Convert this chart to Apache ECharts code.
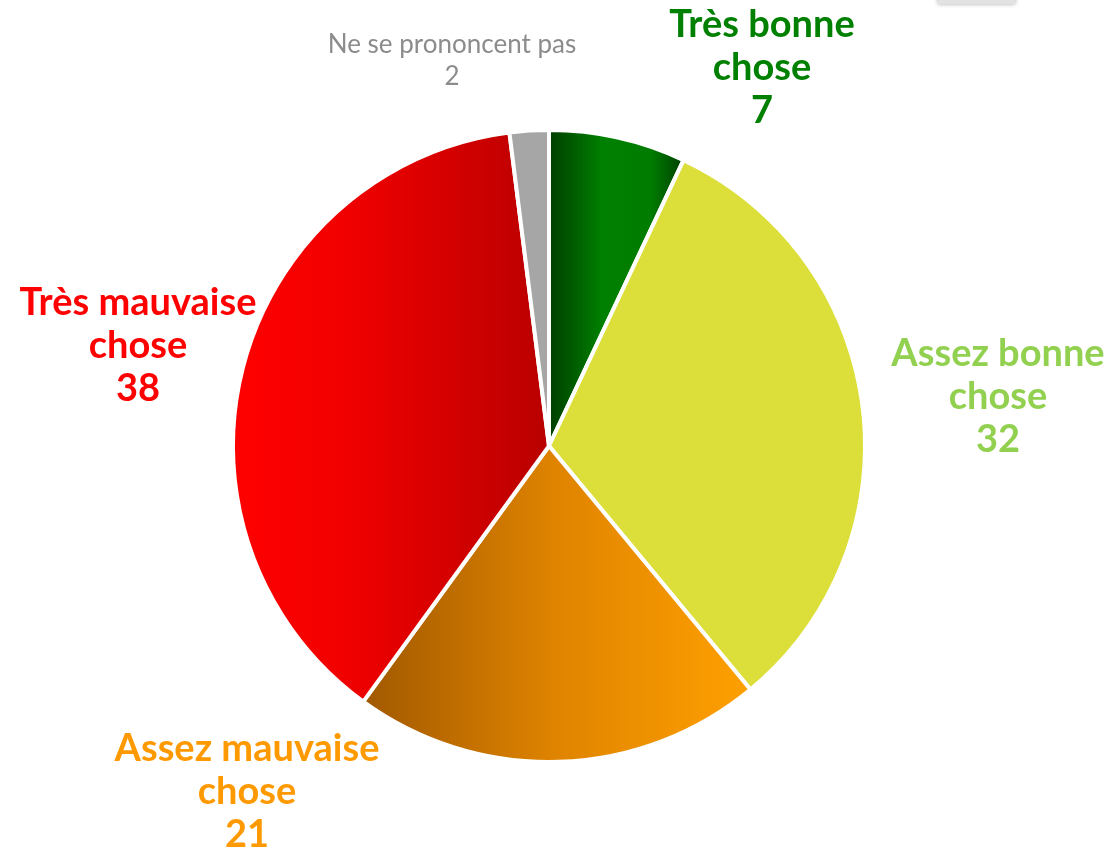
<!DOCTYPE html>
<html>
<head>
<meta charset="utf-8">
<script src="https://cdn.jsdelivr.net/npm/echarts@6/dist/echarts.min.js"></script>
<style>
  html, body { margin: 0; padding: 0; background: #fff; }
  #chart { width: 1111px; height: 850px; }
</style>
</head>
<body>
<div id="chart"></div>
<script>
// answers, clockwise from the top
const categories = ['Très bonne\nchose', 'Assez bonne\nchose', 'Assez mauvaise\nchose', 'Très mauvaise\nchose', 'Ne se prononcent pas'];
const values = [7, 32, 21, 38, 2];

// label colours and where each label block sits
const labelColors = ['#008000', '#92D050', '#FF9900', '#FF0000', '#8C8C8C'];
const labelPos = [[762, 68], [998, 397], [247, 792], [138, 346], [452, 61]];

const grad = (stops) => ({
  type: 'linear', x: 0, y: 0, x2: 1, y2: 0,
  colorStops: stops.map((c) => ({ offset: c[0], color: c[1] })),
});

const fills = [
  grad([[0, '#003c00'], [0.4, '#008000'], [0.75, '#007c00'], [1, '#003c00']]),
  '#DCDF3A',
  grad([[0, '#A05800'], [0.5, '#E08400'], [1, '#FFA000']]),
  grad([[0, '#FF0000'], [0.35, '#F20000'], [1, '#B80000']]),
  '#A6A6A6',
];

const mychart = echarts.init(document.getElementById('chart'));
const option = {
  animation: false,
  graphic: [{
    type: 'rect',
    shape: { x: 938, y: -6, width: 77, height: 10 },
    style: { fill: '#e2e2e2', shadowBlur: 4, shadowColor: 'rgba(0,0,0,0.35)' },
  }],
  series: [{
    type: 'pie',
    center: [549, 446],
    radius: 316,
    startAngle: 90,
    clockwise: true,
    data: categories.map((name, i) => ({
      name: name,
      value: values[i],
      itemStyle: { color: fills[i] },
      label: {
        color: labelColors[i],
        fontWeight: i === 4 ? 'normal' : 'bold',
        fontSize: i === 4 ? 26 : 38,
        lineHeight: i === 4 ? 32 : 43,
      },
    })),
    itemStyle: { borderColor: '#fff', borderWidth: 4 },
    label: {
      show: true,
      position: 'outside',
      fontFamily: 'Lato',
      formatter: '{b}\n{c}',
      align: 'center',
      overflow: 'none',
      width: 400,
    },
    labelLine: { show: false },
    labelLayout: (p) => ({
      x: labelPos[p.dataIndex][0],
      y: labelPos[p.dataIndex][1],
      align: 'center',
      verticalAlign: 'middle',
      hideOverlap: false,
    }),
    emphasis: { disabled: true },
  }],
};
mychart.setOption(option);
window.addEventListener('resize', () => mychart.resize());
</script>
</body>
</html>
